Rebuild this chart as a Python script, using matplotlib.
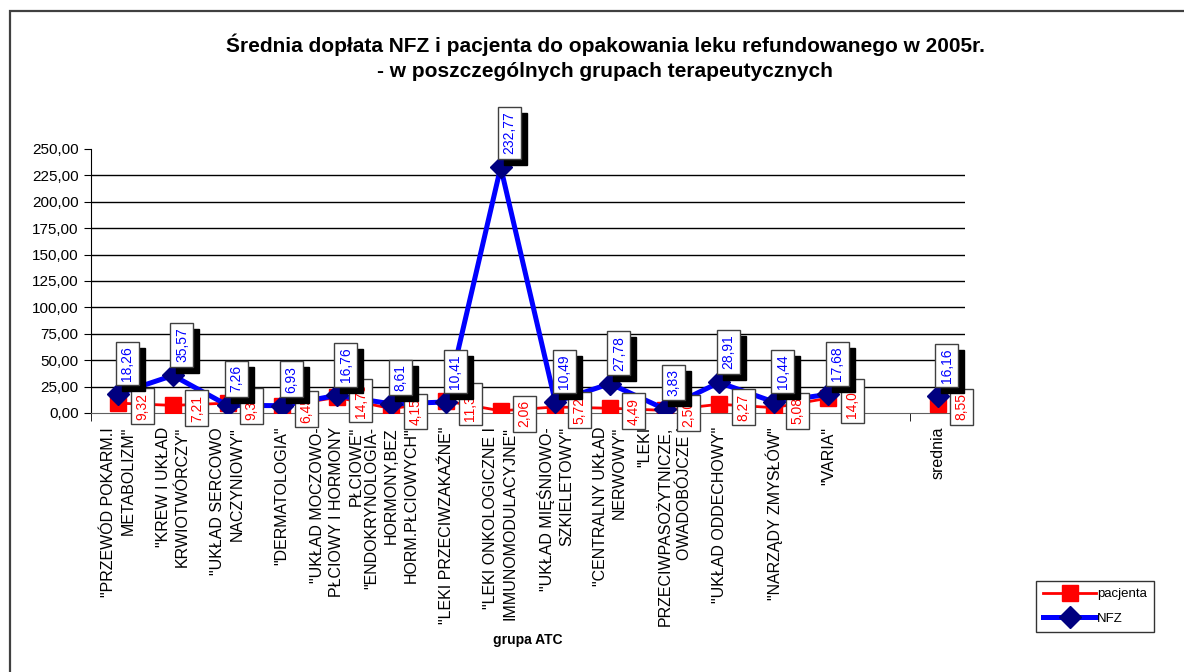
import matplotlib
matplotlib.use("Agg")
from matplotlib import pyplot as plt
from matplotlib.patches import Rectangle
from matplotlib.ticker import FuncFormatter
import numpy as np

plt.rcParams['font.family'] = ['Liberation Sans', 'DejaVu Sans']

# Data
categories = [
    '"PRZEWÓD POKARM.I\nMETABOLIZM"',
    '"KREW I UKŁAD\nKRWIOTWÓRCZY"',
    '"UKŁAD SERCOWO\nNACZYNIOWY"',
    '"DERMATOLOGIA"',
    '"UKŁAD MOCZOWO-\nPŁCIOWY I HORMONY\nPŁCIOWE"',
    '"ENDOKRYNOLOGIA-\nHORMONY,BEZ\nHORM.PŁCIOWYCH"',
    '"LEKI PRZECIWZAKAŹNE"',
    '"LEKI ONKOLOGICZNE I\nIMMUNOMODULACYJNE"',
    '"UKŁAD MIĘŚNIOWO-\nSZKIELETOWY"',
    '"CENTRALNY UKŁAD\nNERWOWY"',
    '"LEKI\nPRZECIWPASOŻYTNICZE,\nOWADOBÓJCZE I',
    '"UKŁAD ODDECHOWY"',
    '"NARZĄDY ZMYSŁÓW"',
    '"VARIA"',
    '',
    'srednia',
]
pacjenta = [9.32, 7.21, 9.35, 6.45, 14.75, 4.15, 11.37, 2.06, 5.72, 4.49,
            2.50, 8.27, 5.08, 14.08, np.nan, 8.55]
nfz = [18.26, 35.57, 7.26, 6.93, 16.76, 8.61, 10.41, 232.77, 10.49, 27.78,
       3.83, 28.91, 10.44, 17.68, np.nan, 16.16]

title = ("Średnia dopłata NFZ i pacjenta do opakowania leku refundowanego w 2005r.\n"
         "- w poszczególnych grupach terapeutycznych")


def fmt(v):
    return f"{v:.2f}".replace(".", ",")


W, H = 1184, 672
fig = plt.figure(figsize=(W / 100, H / 100), dpi=100)
ax = fig.add_axes([91 / W, 1 - 413 / H, (965 - 91) / W, (413 - 149) / H])

x = np.arange(1, len(categories) + 1)

ax.plot(x, pacjenta, color="#ff0000", lw=2, marker="s", ms=11,
        mfc="#ff0000", mec="#ff0000", label="pacjenta", zorder=3)
ax.plot(x, nfz, color="#0000ff", lw=3.6, marker="D", ms=11,
        mfc="#000080", mec="#000080", label="NFZ", zorder=3.5)

ax.set_xlim(0.5, len(categories) + 0.5)
ax.set_ylim(0, 250)
ax.set_yticks(np.arange(0, 251, 25))
ax.yaxis.set_major_formatter(FuncFormatter(lambda v, p: fmt(v)))
ax.tick_params(axis="y", direction="out", length=5, labelsize=11, pad=4)
for g in np.arange(25, 250, 25):
    ax.axhline(g, color="black", lw=1, zorder=1)

ax.set_xticks(x)
ax.set_xticklabels(categories, rotation=90, fontsize=11.5, va="top", ha="center",
                   multialignment="right", linespacing=1.38)
ax.set_xticks(np.arange(0.5, len(categories) + 0.6, 1), minor=True)
ax.tick_params(axis="x", which="major", length=0, pad=10)
ax.tick_params(axis="x", which="minor", direction="out", length=6)

for s in ["top", "right"]:
    ax.spines[s].set_visible(False)
ax.spines["left"].set_color("black")
ax.spines["bottom"].set_color("#606060")

# data labels
box_white = dict(boxstyle="square,pad=0.32", fc="white", ec="#404040", lw=1)
box_black = dict(boxstyle="square,pad=0.32", fc="black", ec="black", lw=1)

for xi, v in zip(x, pacjenta):
    if np.isnan(v):
        continue
    ax.annotate(fmt(v), (xi, v), xytext=(17, -3), textcoords="offset pixels",
                rotation=90, ha="left", va="center", fontsize=10, color="#ff0000",
                bbox=box_white, annotation_clip=False, zorder=4)

for xi, v in zip(x, nfz):
    if np.isnan(v):
        continue
    # shadow
    ax.annotate(fmt(v), (xi, v), xytext=(15, 7), textcoords="offset pixels",
                rotation=90, ha="center", va="bottom", fontsize=10, color="black",
                bbox=box_black, annotation_clip=False, zorder=5)
    ax.annotate(fmt(v), (xi, v), xytext=(9, 13), textcoords="offset pixels",
                rotation=90, ha="center", va="bottom", fontsize=10, color="#0000ff",
                bbox=box_white, annotation_clip=False, zorder=6)

fig.text(605 / W, 1 - 57 / H, title, ha="center", va="center", fontsize=15,
         fontweight="bold", linespacing=1.4)
fig.text(528 / W, 1 - 640 / H, "grupa ATC", ha="center", va="center",
         fontsize=10, fontweight="bold")

leg = ax.legend(loc="upper left", bbox_to_anchor=(1036 / W, 1 - 581 / H),
                bbox_transform=fig.transFigure, fontsize=9.5, frameon=True,
                fancybox=False, handlelength=4, handletextpad=0.1,
                borderpad=0.55, labelspacing=0.9, markerscale=1.0,
                borderaxespad=0)
leg.get_frame().set_edgecolor("black")
leg.get_frame().set_linewidth(1)

# outer chart frame (cut off at right and bottom)
fig.patches.append(Rectangle((10 / W, -0.1), 2, 1 - 11 / H + 0.1,
                             transform=fig.transFigure, fill=False,
                             ec="#404040", lw=1.6))

fig.savefig("out.png", dpi=100)
